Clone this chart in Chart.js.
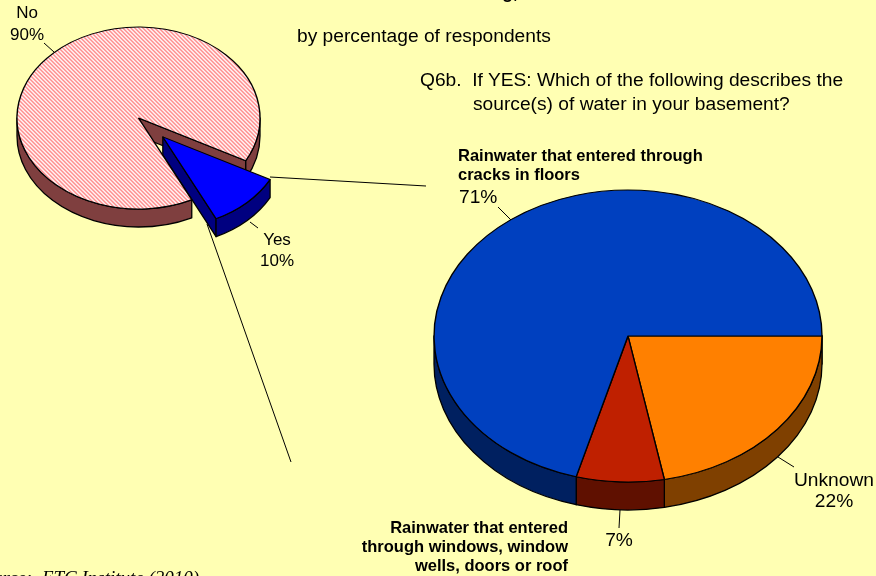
<!DOCTYPE html>
<html><head><meta charset="utf-8">
<script src="https://cdn.jsdelivr.net/npm/chart.js@4/dist/chart.umd.min.js"></script>
<style>
html,body{margin:0;padding:0;background:#FFFFB3;overflow:hidden}
#page{position:relative;width:876px;height:576px;overflow:hidden;background:#FFFFB3}
canvas{position:absolute;left:0;top:0}
.t{position:absolute;white-space:pre;color:#000;font-family:"Liberation Sans",Arial,sans-serif;font-size:19.2px;line-height:21px}
.s{font-size:17px}
.q{line-height:24px}
.b{font-weight:bold;font-size:16.5px;line-height:19px}
.c{text-align:center;transform:translateX(-50%)}
.r{text-align:right;transform:translateX(-100%)}
</style></head><body>
<div id="page">
<canvas id="overview" width="876" height="576"></canvas>
<canvas id="detail" width="876" height="576"></canvas>
</div>
<script>
const overviewLabels = ['No', 'Yes'];
const overviewValues = [90, 10];
const overviewColors = ['hatch', '#0000FF'];
const overviewSides = ['#7F3F3F', '#000080'];
const overviewExplode = [0, 35];

const detailLabels = ['Unknown', 'Rainwater that entered through windows, window wells, doors or roof', 'Rainwater that entered through cracks in floors'];
const detailValues = [22, 7.3, 70.7];
const detailColors = ['#FF8000', '#BF2000', '#0040BF'];
const detailSides = ['#7F4000', '#5F1000', '#002060'];
const detailExplode = [0, 0, 0];

const pieOverview = {cx: 138.5, cy: 118, rx: 121.5, ry: 91, depth: 18, rotation: 154};
const pieDetail = {cx: 628, cy: 336, rx: 194, ry: 146, depth: 28, rotation: 90};

const headings = [
  ['g,', 502, -17, 'b', 'font-size:18px'],
  ['by percentage of respondents', 297, 25, '', ''],
  ['Q6b.  If YES: Which of the following describes the', 420, 68, 'q', ''],
  ['source(s) of water in your basement?', 473, 92, 'q', ''],
  ['Source:  ETC Institute (2010)', -26, 567, '', 'font-family:\'Liberation Serif\',serif;font-style:italic;font-size:19px']
];
const leaders = [
  [270, 177, 426, 186],
  [207, 224, 291, 462],
  [44, 43, 54, 52],
  [250, 222, 258, 228],
  [498, 207, 511, 220],
  [778, 457, 794, 467],
  [620, 510, 619, 528]
];

const page = document.getElementById('page');
function addText(text, x, y, cls, css) {
  const el = document.createElement('div');
  el.className = 't ' + cls;
  el.textContent = text;
  el.style.left = x + 'px';
  el.style.top = y + 'px';
  if (css) el.style.cssText += ';' + css;
  page.appendChild(el);
}
function hatchPattern(ctx, k) {
  const c = document.createElement('canvas');
  c.width = 4; c.height = 4;
  const g = c.getContext('2d');
  g.fillStyle = '#FFF4F4'; g.fillRect(0, 0, 4, 4);
  g.fillStyle = '#FF8F8F';
  for (let i = 0; i < 4; i++) { g.fillRect(i, i, 1, 1); g.fillRect((i + 1) % 4, i, 1, 1); }
  const p = ctx.createPattern(c, 'repeat');
  p.setTransform(new DOMMatrix().scale(1, 1 / k));
  return p;
}
function wallPlugin(cfg) {
  const k = cfg.ry / cfg.rx;
  return {
    id: 'wall',
    afterDatasetsUpdate(chart) {
      const ds = chart.data.datasets[0];
      chart.getDatasetMeta(0).data.forEach((a, i) => {
        const mid = (a.startAngle + a.endAngle) / 2;
        a.x += Math.cos(mid) * ds.explode[i];
        a.y += Math.sin(mid) * ds.explode[i];
      });
    },
    beforeDatasetsDraw(chart) {
      const ctx = chart.ctx;
      const ds = chart.data.datasets[0];
      const arcs = chart.getDatasetMeta(0).data;
      ctx.save();
      ctx.lineWidth = 1.3; ctx.strokeStyle = '#000'; ctx.lineJoin = 'round';
      const paint = i => { ctx.closePath(); ctx.fillStyle = ds.sideColor[i]; ctx.fill(); ctx.stroke(); };
      const geom = a => ({x: a.x, y: cfg.cy + (a.y - cfg.cy) * k, r: a.outerRadius, ry: a.outerRadius * k});
      arcs.forEach((a, i) => {
        const g = geom(a), d = cfg.depth;
        const radial = ang => {
          const px = g.x + Math.cos(ang) * g.r, py = g.y + Math.sin(ang) * g.ry;
          ctx.beginPath(); ctx.moveTo(g.x, g.y); ctx.lineTo(px, py); ctx.lineTo(px, py + d); ctx.lineTo(g.x, g.y + d); paint(i);
        };
        if (Math.cos(a.endAngle) > 0) radial(a.endAngle);
        if (Math.cos(a.startAngle) < 0) radial(a.startAngle);
      });
      arcs.forEach((a, i) => {
        const g = geom(a), d = cfg.depth;
        for (let n = -2; n < 3; n++) {
          const lo = Math.max(a.startAngle, 2 * Math.PI * n), hi = Math.min(a.endAngle, 2 * Math.PI * n + Math.PI);
          if (hi > lo) {
            ctx.beginPath();
            ctx.ellipse(g.x, g.y, g.r, g.ry, 0, lo, hi);
            ctx.ellipse(g.x, g.y + d, g.r, g.ry, 0, hi, lo, true);
            paint(i);
          }
        }
      });
      ctx.restore();
      ctx.save();
      ctx.translate(0, cfg.cy); ctx.scale(1, k); ctx.translate(0, -cfg.cy);
    },
    afterDatasetsDraw(chart) { chart.ctx.restore(); }
  };
}
function makePie(id, cfg, labels, values, colors, sides, explode, after) {
  const canvas = document.getElementById(id);
  const k = cfg.ry / cfg.rx;
  const ctx = canvas.getContext('2d');
  const fills = colors.map(c => c === 'hatch' ? hatchPattern(ctx, k) : c);
  const dx = 876 - 2 * cfg.cx, bottom = 576 - 2 * cfg.cy;
  return new Chart(canvas, {
    type: 'pie',
    data: {labels, datasets: [{data: values, backgroundColor: fills, borderColor: '#000', borderWidth: 1.4, explode, sideColor: sides, clip: false}]},
    options: {
      responsive: false, animation: false, rotation: cfg.rotation, radius: cfg.rx,
      layout: {padding: {left: Math.max(0, -dx), right: Math.max(0, dx), top: Math.max(0, -bottom), bottom: Math.max(0, bottom)}},
      plugins: {legend: {display: false}, tooltip: {enabled: false}}
    },
    plugins: [wallPlugin(cfg), after].filter(Boolean)
  });
}
const leaderPlugin = {
  id: 'leaders',
  afterDraw(chart) {
    const ctx = chart.ctx;
    ctx.save();
    ctx.strokeStyle = '#000'; ctx.lineWidth = 1;
    leaders.forEach(l => { ctx.beginPath(); ctx.moveTo(l[0], l[1]); ctx.lineTo(l[2], l[3]); ctx.stroke(); });
    ctx.restore();
  }
};
makePie('overview', pieOverview, overviewLabels, overviewValues, overviewColors, overviewSides, overviewExplode, leaderPlugin);
makePie('detail', pieDetail, detailLabels, detailValues, detailColors, detailSides, detailExplode, null);

const pct = v => Math.round(v) + '%';
headings.forEach(h => addText(h[0], h[1], h[2], h[3], h[4]));
addText(overviewLabels[0] + '\n' + pct(overviewValues[0]), 27, 2, 'c s', 'line-height:22px');
addText(overviewLabels[1] + '\n' + pct(overviewValues[1]), 277, 229, 'c s', '');
addText(detailLabels[0] + '\n' + pct(detailValues[0]), 834, 469, 'c', '');
addText(pct(detailValues[1]), 619, 529, 'c', '');
addText(pct(detailValues[2]), 459, 186, '', '');
addText('Rainwater that entered through\ncracks in floors', 458, 146, 'b', '');
addText('Rainwater that entered\nthrough windows, window\nwells, doors or roof', 568, 518, 'b r', '');
</script>
</body></html>
